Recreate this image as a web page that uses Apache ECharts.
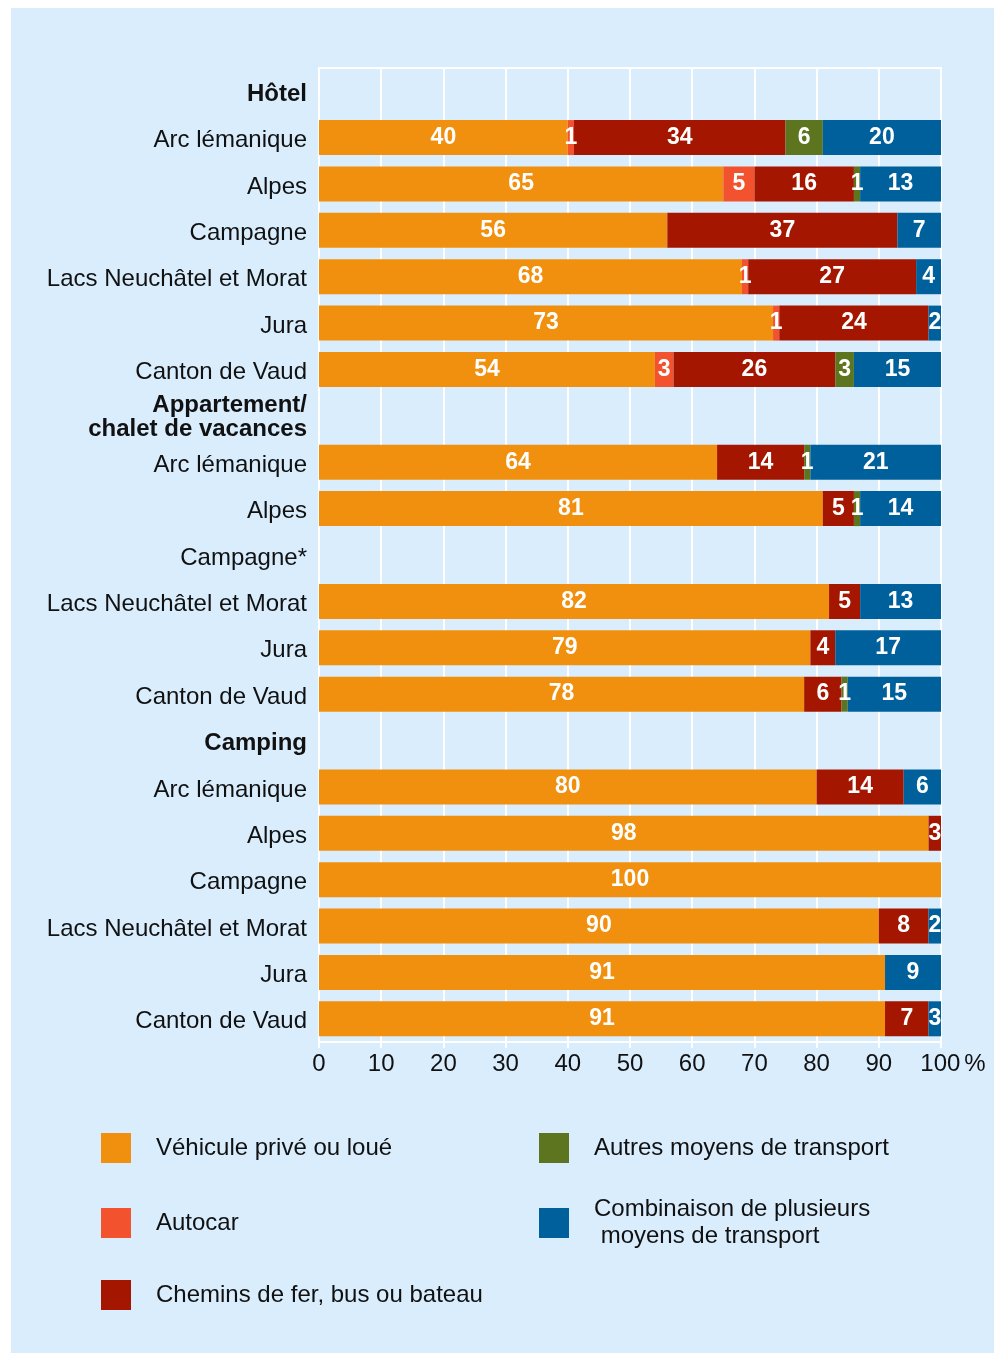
<!DOCTYPE html>
<html>
<head>
<meta charset="utf-8">
<script src="https://cdn.jsdelivr.net/npm/echarts@6/dist/echarts.min.js"></script>
<style>
  html, body { margin: 0; padding: 0; background: #fff; }
  #chart { width: 994px; height: 1353px; }
</style>
</head>
<body>
<div id="chart"></div>
<script>
// catégories (de haut en bas), les en-têtes sont en gras
const categories = [
  'Hôtel', 'Arc lémanique', 'Alpes', 'Campagne', 'Lacs Neuchâtel et Morat', 'Jura', 'Canton de Vaud',
  'Appartement/\nchalet de vacances', 'Arc lémanique', 'Alpes', 'Campagne*', 'Lacs Neuchâtel et Morat', 'Jura', 'Canton de Vaud',
  'Camping', 'Arc lémanique', 'Alpes', 'Campagne', 'Lacs Neuchâtel et Morat', 'Jura', 'Canton de Vaud'
]
const headerIdx = [0, 7, 14]

// parts en %
const vehicule = [null, 40, 65, 56, 68, 73, 54, null, 64, 81, null, 82, 79, 78, null, 80, 98, 100, 90, 91, 91]
const autocar = [null, 1, 5, 0, 1, 1, 3, null, 0, 0, null, 0, 0, 0, null, 0, 0, 0, 0, 0, 0]
const cheminsFer = [null, 34, 16, 37, 27, 24, 26, null, 14, 5, null, 5, 4, 6, null, 14, 3, 0, 8, 0, 7]
const autres = [null, 6, 1, 0, 0, 0, 3, null, 1, 1, null, 0, 0, 1, null, 0, 0, 0, 0, 0, 0]
const combinaison = [null, 20, 13, 7, 4, 2, 15, null, 21, 14, null, 13, 17, 15, null, 6, 0, 0, 2, 9, 3]

const seriesNames = [
  'Véhicule privé ou loué',
  'Autocar',
  'Chemins de fer, bus ou bateau',
  'Autres moyens de transport',
  'Combinaison de plusieurs\n moyens de transport'
]
const colors = ['#f0900e', '#f3522f', '#a51600', '#5e7520', '#00609c']
const seriesData = [vehicule, autocar, cheminsFer, autres, combinaison]

const font = 'Liberation Sans, Arial, sans-serif'

const chart = echarts.init(document.getElementById('chart'), null, { renderer: 'canvas' })

// une légende par élément pour placer chaque carré
const legendPos = [
  { left: 101, top: 1133 },
  { left: 101, top: 1208 },
  { left: 101, top: 1280 },
  { left: 539, top: 1133 },
  { left: 539, top: 1196 }
]
const legends = seriesNames.map((name, i) => ({
  data: [name],
  left: legendPos[i].left,
  top: legendPos[i].top,
  padding: 0,
  icon: 'rect',
  itemWidth: 30,
  itemHeight: 30,
  selectedMode: false,
  textStyle: {
    fontFamily: font,
    fontSize: 24,
    color: '#111',
    lineHeight: 27,
    padding: [0, 0, 0, 20]
  }
}))

const option = {
  backgroundColor: '#fff',
  animation: false,
  color: colors,
  graphic: [{
    type: 'rect',
    z: -10,
    shape: { x: 11, y: 8, width: 983, height: 1345 },
    style: { fill: '#d9edfd' }
  }],
  legend: legends,
  grid: {
    left: 319,
    right: 53,
    top: 68,
    bottom: 311,
    show: true,
    borderColor: '#fff',
    borderWidth: 2,
    backgroundColor: 'transparent'
  },
  xAxis: {
    type: 'value',
    min: 0,
    max: 100,
    interval: 10,
    axisLine: { show: false },
    axisTick: { show: true, length: 6, lineStyle: { color: '#fff', width: 2 } },
    splitLine: { lineStyle: { color: '#fff', width: 2 } },
    axisLabel: {
      fontFamily: font,
      fontSize: 24,
      color: '#111',
      margin: 10,
      formatter: v => v === 100 ? '{pad|}100{p|%}' : String(v),
      rich: {
        pad: { width: 24 },
        p: { fontFamily: font, fontSize: 24, color: '#111', padding: [0, 0, 0, 4] }
      }
    }
  },
  yAxis: {
    type: 'category',
    inverse: true,
    data: categories,
    axisLine: { show: false },
    axisTick: { show: false },
    splitLine: { show: false },
    axisLabel: {
      fontFamily: font,
      fontSize: 24,
      color: '#111',
      margin: 12,
      formatter: (v, idx) => {
        if (headerIdx.indexOf(idx) >= 0) {
          const lines = v.split('\n')
          if (lines.length === 1) return '{h|' + v + '}'
          // en-tête sur deux lignes
          return '{h1|' + lines[0] + '}\n{h2|' + lines[1] + '}'
        }
        return '{n|' + v + '}'
      },
      rich: {
        h: { fontFamily: font, fontSize: 24, fontWeight: 'bold', color: '#111', padding: [6, 0, 0, 0] },
        h1: { fontFamily: font, fontSize: 24, fontWeight: 'bold', color: '#111', lineHeight: 27, padding: [6, 0, 0, 0] },
        h2: { fontFamily: font, fontSize: 24, fontWeight: 'bold', color: '#111', lineHeight: 27 },
        n: { fontFamily: font, fontSize: 24, color: '#111', padding: [6, 0, 0, 0] }
      }
    }
  },
  series: seriesNames.map((name, i) => ({
    name,
    type: 'bar',
    stack: 'total',
    barWidth: 35,
    clip: true,
    data: seriesData[i],
    itemStyle: { color: colors[i] },
    label: {
      show: true,
      position: 'inside',
      fontFamily: font,
      fontSize: 23,
      fontWeight: 'bold',
      color: '#fff',
      formatter: p => (p.value ? String(p.value) : '')
    }
  }))
}

chart.setOption(option)
</script>
</body>
</html>
